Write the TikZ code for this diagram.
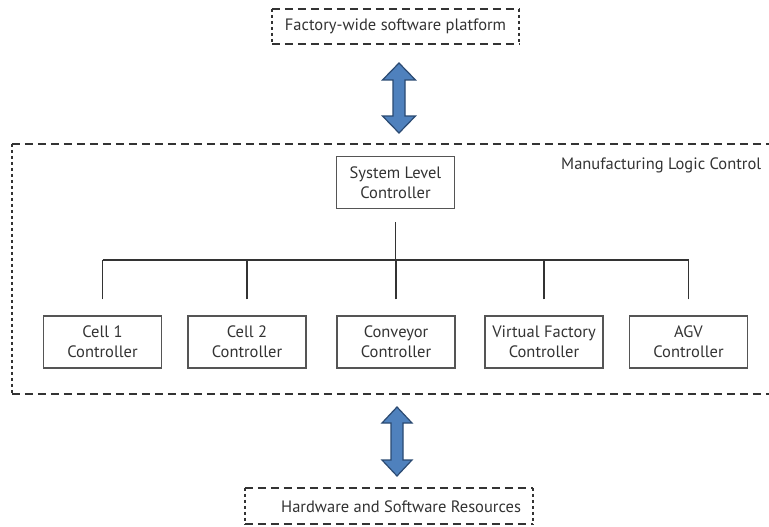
\documentclass[tikz,border=0pt]{standalone}
\usepackage{fontspec}
\setmainfont{PT Sans}
\usetikzlibrary{calc}
\definecolor{ink}{HTML}{333333}
\definecolor{frame}{HTML}{555555}
\definecolor{arrowfill}{HTML}{4F81BD}
\definecolor{arrowline}{HTML}{2B4A72}
% vertical double block arrow: centre x, top y, bottom y, head half width, head length, shaft half width
\newcommand\vblockarrow[6]{%
  \filldraw[blockarrow] (#1,#2) -- ({#1+#4},{#2+#5}) -- ({#1+#6},{#2+#5}) -- ({#1+#6},{#3-#5})
    -- ({#1+#4},{#3-#5}) -- (#1,#3) -- ({#1-#4},{#3-#5}) -- ({#1-#6},{#3-#5})
    -- ({#1-#6},{#2+#5}) -- ({#1-#4},{#2+#5}) -- cycle;}
\begin{document}
\begin{tikzpicture}[x=1pt,y=-1pt,
  ctrl/.style={draw=frame, line width=1.3pt, rectangle, minimum width=118pt,
    minimum height=52pt, align=center, inner sep=0pt, text=ink,
    font=\fontsize{16.5}{20}\selectfont},
  bus/.style={draw=ink, line width=1.1pt},
  hdash/.style={draw=ink, line width=2pt, dash pattern=on 8pt off 5pt},
  vdash/.style={draw=ink, line width=2.4pt, dash pattern=on 3pt off 3pt},
  lbl/.style={text=ink, font=\fontsize{16.5}{20}\selectfont, inner sep=0pt},
  blockarrow/.style={fill=arrowfill, draw=arrowline, line width=1.2pt, line join=miter}
]
\useasboundingbox (0,0) rectangle (769,527);
\fill[white] (0,0) rectangle (769,527);
\clip (0,0) rectangle (769,527);

% outer layers and their frames
\node[minimum width=247pt, minimum height=35pt, inner sep=0pt] (platform) at (395.5,26.5) {};
\node[lbl] (platformlabel) at (platform.center) {Factory-wide software platform};
\node[minimum width=288pt, minimum height=36pt, inner sep=0pt] (resources) at (389,506) {};
\node[lbl, anchor=west] (resourceslabel) at (281,507) {Hardware and Software Resources};
\node[minimum width=790pt, minimum height=250pt, inner sep=0pt] (mlc) at (407,269) {};
\node[lbl, anchor=west] (mlclabel) at (561,165) {Manufacturing Logic Control};

% dashed frames
\foreach \b in {platform,resources,mlc}{
  \draw[hdash] (\b.north west) -- (\b.north east);
  \draw[hdash] (\b.south west) -- (\b.south east);
  \draw[vdash] (\b.north west) -- (\b.south west);
  \draw[vdash] (\b.north east) -- (\b.south east);
}

% controllers
\node[ctrl] (sys) at (395.5,182.5) {System Level\\Controller};
\node[ctrl] (cell1) at (102.5,342) {Cell 1\\Controller};
\node[ctrl] (cell2) at (247,342) {Cell 2\\Controller};
\node[ctrl] (conv) at (396,342) {Conveyor\\Controller};
\node[ctrl] (vf) at (544,342) {Virtual Factory\\Controller};
\node[ctrl] (agv) at (688.5,342) {AGV\\Controller};

% tree of connections
\coordinate (sysdrop) at ($(sys.south)+(0,13)$);
\coordinate (bus) at (0,260);
\draw[bus] (sysdrop) -- (sysdrop |- bus);
\foreach \c in {cell1,cell2,conv,vf,agv}{
  \coordinate (\c-top) at ($(\c.north)+(0,-16)$);
  \draw[bus] (\c-top) -- (\c-top |- bus);
}
\draw[bus] (cell1-top |- bus) -- (agv-top |- bus);

% block arrows between the layers
\vblockarrow{399}{63}{133}{16.5}{17}{6}
\vblockarrow{397}{407}{476}{15}{16}{6}
\end{tikzpicture}
\end{document}
